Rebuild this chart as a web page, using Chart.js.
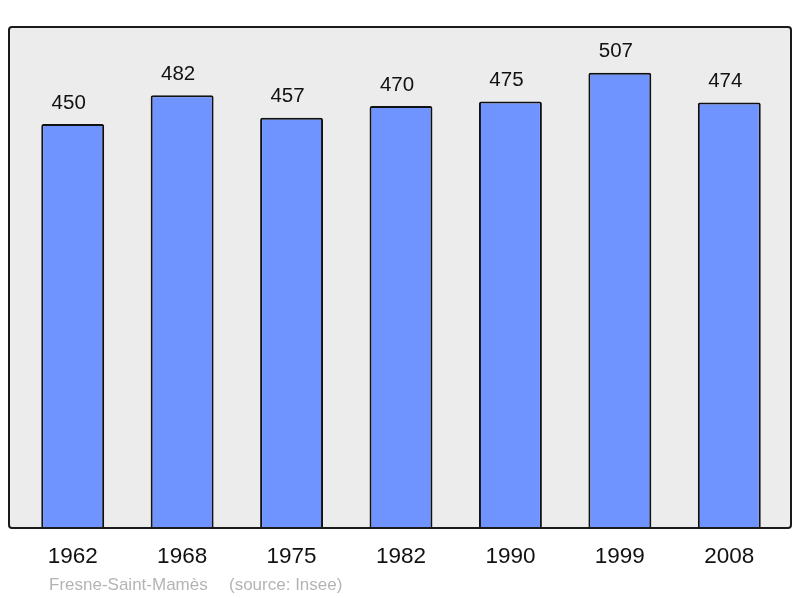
<!DOCTYPE html>
<html>
<head>
<meta charset="utf-8">
<script src="https://cdn.jsdelivr.net/npm/chart.js@4/dist/chart.umd.min.js"></script>
<style>
  html, body { margin: 0; padding: 0; background: #ffffff; }
  #wrap { width: 800px; height: 598px; position: relative; }
</style>
</head>
<body>
<div id="wrap"><canvas id="popChart"></canvas></div>
<script>
var years = ['1962', '1968', '1975', '1982', '1990', '1999', '2008'];
var population = [450, 482, 457, 470, 475, 507, 474];
var yMax = 558;
var commune = 'Fresne-Saint-Mamès';
var source = '(source: Insee)';

function framePath(ctx) {
    var x0 = 9, y0 = 27, x1 = 791, y1 = 528, r = 3;
    ctx.beginPath();
    ctx.moveTo(x0 + r, y0);
    ctx.lineTo(x1 - r, y0);
    ctx.quadraticCurveTo(x1, y0, x1, y0 + r);
    ctx.lineTo(x1, y1 - r);
    ctx.quadraticCurveTo(x1, y1, x1 - r, y1);
    ctx.lineTo(x0 + r, y1);
    ctx.quadraticCurveTo(x0, y1, x0, y1 - r);
    ctx.lineTo(x0, y0 + r);
    ctx.quadraticCurveTo(x0, y0, x0 + r, y0);
    ctx.closePath();
}

// frame, value labels, year labels and footer
var decorPlugin = {
    id: 'decor',
    beforeDraw: function (chart) {
        var ctx = chart.ctx;
        ctx.save();
        framePath(ctx);
        ctx.fillStyle = '#ececec';
        ctx.fill();
        ctx.restore();
    },
    afterDraw: function (chart) {
        var ctx = chart.ctx;
        ctx.save();
        framePath(ctx);
        ctx.lineWidth = 2;
        ctx.strokeStyle = '#1a1a1a';
        ctx.stroke();

        var meta = chart.getDatasetMeta(0);
        ctx.fillStyle = '#111111';
        ctx.textAlign = 'center';
        ctx.textBaseline = 'middle';
        ctx.font = '20.5px "Liberation Sans", Arial, sans-serif';
        meta.data.forEach(function (bar, i) {
            ctx.fillText(String(population[i]), bar.x - 4, bar.y - 21);
        });
        ctx.font = '22.5px "Liberation Sans", Arial, sans-serif';
        meta.data.forEach(function (bar, i) {
            ctx.fillText(years[i], bar.x, 557);
        });
        ctx.fillStyle = '#b4b4b4';
        ctx.textAlign = 'left';
        ctx.font = '17px "Liberation Sans", Arial, sans-serif';
        ctx.fillText(commune, 49, 585);
        ctx.fillText(source, 229, 585);
        ctx.restore();
    }
};

var ctxPop = document.getElementById('popChart').getContext('2d');
var popChart = new Chart(ctxPop, {
    type: 'bar',
    data: {
        labels: years,
        datasets: [{
            data: population,
            backgroundColor: '#7094ff',
            borderColor: '#111111',
            borderWidth: 2,
            borderSkipped: 'bottom',
            borderRadius: { topLeft: 2, topRight: 2 },
            barPercentage: 0.575,
            categoryPercentage: 1.0
        }]
    },
    options: {
        responsive: true,
        maintainAspectRatio: false,
        animation: false,
        layout: {
            padding: { left: 18, right: 16, top: 27, bottom: 70 }
        },
        plugins: {
            legend: { display: false },
            tooltip: { enabled: false }
        },
        scales: {
            x: { display: false },
            y: { display: false, min: 0, max: yMax }
        }
    },
    plugins: [decorPlugin]
});
</script>
</body>
</html>
